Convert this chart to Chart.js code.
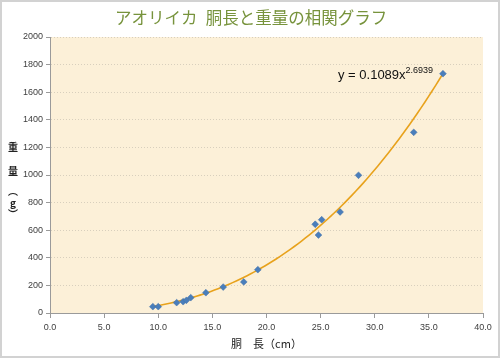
<!DOCTYPE html>
<html><head><meta charset="utf-8">
<script src="https://cdn.jsdelivr.net/npm/chart.js@4"></script>
<style>html,body{margin:0;padding:0;background:#fff}#wrap{width:500px;height:358px}</style>
</head><body><div id="wrap"><canvas id="c" width="500" height="358"></canvas></div>
<script>
const chartTitle = 'アオリイカ\u2002胴長と重量の相関グラフ';
const xTitle = '胴　長（cm）';
const yTitleChars = ['重', '量', '︵', 'g', '︶'];
const bodyLength = [9.5, 10.0, 11.7, 12.3, 12.6, 13.0, 14.4, 16.0, 17.9, 19.2, 24.5, 24.8, 25.1, 26.8, 28.5, 33.6, 36.3];
const weight =     [46,   46,   75,   82,   92,   111,  147,  188,  225,  314,  643,  565,  676,  732,  998, 1309, 1734];
const trendCoef = 0.1089;
const trendExp = 2.6939;
const xTicks = [0, 5, 10, 15, 20, 25, 30, 35, 40];
const yTicks = [0, 200, 400, 600, 800, 1000, 1200, 1400, 1600, 1800, 2000];

const points = bodyLength.map((x, i) => ({x: x, y: weight[i]}));
const xMin = Math.min(...bodyLength), xMax = Math.max(...bodyLength);
const trend = [];
for (let i = 0; i <= 80; i++) {
  const x = xMin + (xMax - xMin) * i / 80;
  trend.push({x: x, y: trendCoef * Math.pow(x, trendExp)});
}

const bgPlugin = {
  id: 'bg',
  beforeDraw(chart) {
    const {ctx, chartArea: a} = chart;
    ctx.save();
    ctx.fillStyle = '#ffffff';
    ctx.fillRect(0, 0, chart.width, chart.height);
    ctx.fillStyle = '#fcf0d8';
    ctx.fillRect(a.left, a.top, a.right - a.left, a.bottom - a.top);
    ctx.strokeStyle = '#d2d2d2';
    ctx.lineWidth = 2;
    ctx.strokeRect(1, 1, chart.width - 2, chart.height - 2);
    ctx.restore();
  },
  afterDraw(chart) {
    const {ctx} = chart;
    ctx.save();
    // chart title
    ctx.fillStyle = '#77933c';
    ctx.textAlign = 'center';
    ctx.textBaseline = 'middle';
    ctx.font = '16.5px "Noto Sans CJK JP"';
    ctx.fillText(chartTitle, 251, 17.5);
    // vertical y-axis title
    ctx.fillStyle = '#222';
    ctx.font = 'bold 10px "Noto Sans CJK JP"';
    const ys = [147, 171, 191, 203, 214];
    yTitleChars.forEach((ch, i) => ctx.fillText(ch, 13, ys[i]));
    // equation label
    ctx.textAlign = 'left';
    ctx.textBaseline = 'alphabetic';
    ctx.fillStyle = '#111';
    ctx.font = '13px "Liberation Sans"';
    const main = 'y = ' + trendCoef + 'x';
    ctx.fillText(main, 338, 79);
    const w = ctx.measureText(main).width;
    ctx.font = '9px "Liberation Sans"';
    ctx.fillText(String(trendExp), 338 + w, 73);
    ctx.restore();
  }
};

new Chart(document.getElementById('c'), {
  type: 'scatter',
  data: {
    datasets: [
      {
        label: 'data',
        data: points,
        backgroundColor: '#4a7ebb',
        borderColor: '#3f6fa8',
        borderWidth: 0.5,
        pointStyle: 'rectRot',
        pointRadius: 3.4,
        order: 1
      },
      {
        label: 'trend',
        data: trend,
        showLine: true,
        borderColor: '#e8a21c',
        borderWidth: 1.6,
        pointRadius: 0,
        fill: false,
        tension: 0,
        order: 2
      }
    ]
  },
  options: {
    responsive: false,
    animation: false,
    devicePixelRatio: 1,
    layout: {padding: {left: 0, right: 17, top: 37, bottom: 0}},
    plugins: {
      legend: {display: false},
      tooltip: {enabled: false},
      title: {display: false}
    },
    scales: {
      x: {
        type: 'linear',
        min: 0, max: 40,
        afterBuildTicks(s) { s.ticks = xTicks.map(v => ({value: v})); },
        afterFit(s) { s.height = 45; },
        ticks: {
          color: '#404040',
          font: {family: '"Liberation Sans"', size: 9},
          padding: 4,
          maxRotation: 0,
          autoSkip: false,
          callback: v => Number(v).toFixed(1)
        },
        grid: {drawOnChartArea: false, drawTicks: true, tickLength: 5, tickColor: '#9a9a9a'},
        border: {display: true, color: '#9a9a9a', width: 1},
        title: {
          display: true,
          text: xTitle,
          color: '#222',
          font: {family: '"Noto Sans CJK JP"', size: 11},
          padding: {top: 0, bottom: 7.4}
        }
      },
      y: {
        type: 'linear',
        min: 0, max: 2000,
        afterBuildTicks(s) { s.ticks = yTicks.map(v => ({value: v})); },
        afterFit(s) { s.width = 50; },
        ticks: {
          color: '#404040',
          font: {family: '"Liberation Sans"', size: 9},
          padding: 3,
          autoSkip: false,
          callback: v => String(v)
        },
        grid: {
          color: ctx => ctx.tick && ctx.tick.value === 0 ? 'rgba(0,0,0,0)' : '#d8cfbd',
          lineWidth: 1,
          drawTicks: true,
          tickLength: 4,
          tickColor: '#9a9a9a',
          tickBorderDash: []
        },
        border: {display: true, color: '#9a9a9a', width: 1, dash: [1, 2]}
      }
    }
  },
  plugins: [bgPlugin]
});
</script>
</body></html>
